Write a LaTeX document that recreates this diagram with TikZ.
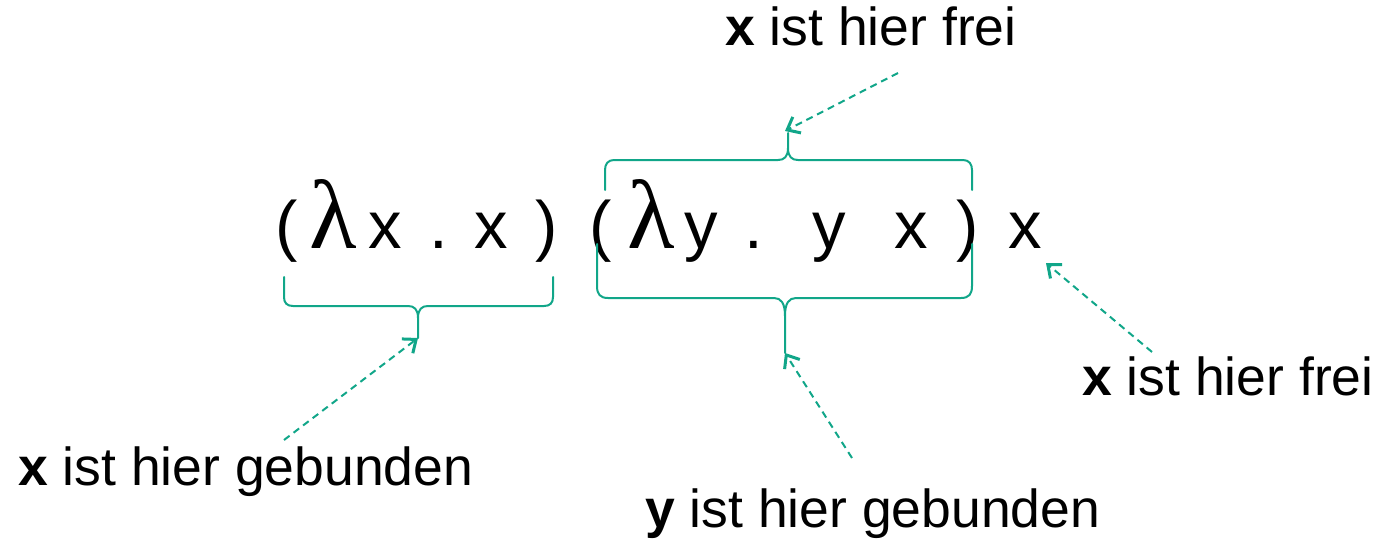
\documentclass[tikz,border=0pt]{standalone}
\usepackage{fontspec}
\setmainfont{Liberation Sans}
\newfontfamily\lamfont{Liberation Serif}
\usetikzlibrary{arrows.meta}
\definecolor{tealc}{RGB}{17,166,137}
\begin{document}
\begin{tikzpicture}[x=1pt,y=-1pt,
  sym/.style={inner sep=0pt, anchor=base, font=\fontsize{67}{70}\selectfont},
  lam/.style={inner sep=0pt, anchor=base, font=\lamfont\fontsize{98}{98}\selectfont},
  lbl/.style={inner sep=0pt, anchor=base west, font=\fontsize{53.5}{60}\selectfont},
  bracepath/.style={draw=tealc, line width=2pt, line join=round, line cap=round},
  ptr/.style={draw=tealc, line width=2pt, dash pattern=on 7pt off 5pt,
    -{Straight Barb[length=11pt,width=18pt,line width=3pt]}}]
\useasboundingbox (0,0) rectangle (1376,543);
% main expression
\node[sym] (pa) at (287,248) {(};
\node[lam] (la) at (333,248) {λ};
\node[sym] (xa) at (385,248) {x};
\node[sym] (da) at (439,248) {.};
\node[sym] (xb) at (491,248) {x};
\node[sym] (pb) at (547,248) {)};
\node[sym] (pc) at (601,248) {(};
\node[lam] (lb) at (651,248) {λ};
\node[sym] (ya) at (701,248) {y};
\node[sym] (db) at (754,248) {.};
\node[sym] (yb) at (829,248) {y};
\node[sym] (xc) at (911,248) {x};
\node[sym] (pd) at (968,248) {)};
\node[sym] (xd) at (1025,248) {x};
% labels
\node[lbl] (t1) at (725,46) {\textbf{x} ist hier frei};
\node[lbl] (t2) at (1082,395) {\textbf{x} ist hier frei};
\node[lbl] (t3) at (18,485) {\textbf{x} ist hier gebunden};
\node[lbl] (t4) at (645,527) {\textbf{y} ist hier gebunden};
% brace 1 (below first group)
\coordinate (b1) at (418,338);
\path[bracepath] (284,277) -- (284,297) .. controls (284,303) and (287,306) .. (293,306)
  -- (408,306) .. controls (414,306) and (418,309) .. (418,318) -- (b1)
  (553,277) -- (553,297) .. controls (553,303) and (550,306) .. (544,306)
  -- (428,306) .. controls (422,306) and (418,309) .. (418,318);
% brace 2 (below second group)
\coordinate (b2) at (785,353);
\path[bracepath] (597,244) -- (597,286) .. controls (597,294) and (600,298) .. (608,298)
  -- (774,298) .. controls (781,298) and (785,303) .. (785,316) -- (b2)
  (972,244) -- (972,286) .. controls (972,294) and (969,298) .. (961,298)
  -- (796,298) .. controls (789,298) and (785,303) .. (785,316);
% brace 3 (above second group)
\coordinate (b3) at (788,133);
\path[bracepath] (605,190) -- (605,170) .. controls (605,164) and (608,160) .. (614,160)
  -- (778,160) .. controls (784,160) and (788,157) .. (788,148) -- (b3)
  (972,190) -- (972,170) .. controls (972,164) and (969,160) .. (963,160)
  -- (798,160) .. controls (792,160) and (788,157) .. (788,148);
% pointers
\coordinate (s1) at (284,440);
\coordinate (s2) at (852,458);
\coordinate (s3) at (898,73);
\coordinate (s4) at (1152,352);
\coordinate (e4) at (1046,263);
\draw[ptr] (s1) -- (b1);
\draw[ptr] (s2) -- (b2);
\draw[ptr] (s3) -- (785,131);
\draw[ptr] (s4) -- (e4);
\end{tikzpicture}
\end{document}
